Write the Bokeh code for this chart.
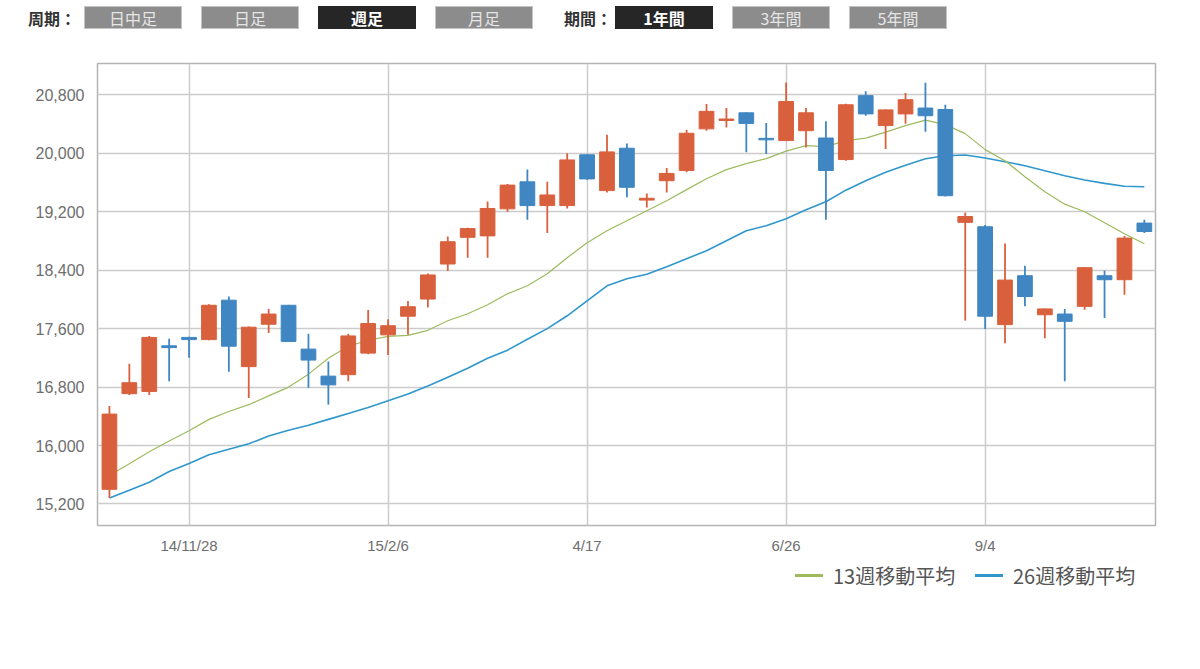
import pandas as pd
from bokeh.plotting import figure
from bokeh.models import (ColumnDataSource, Range1d, FixedTicker, NumeralTickFormatter, Div)
from bokeh.layouts import column
from bokeh.embed import file_html
from bokeh.resources import INLINE

# ---------------- data ----------------
dates = [d.strftime("%Y-%m-%d") for d in pd.date_range("2014-10-31", periods=53, freq="7D")]
tick_labels = {"2014-11-28": "14/11/28", "2015-02-06": "15/2/6", "2015-04-17": "4/17",
               "2015-06-26": "6/26", "2015-09-04": "9/4"}

opens = [15400, 16710, 16740, 17365, 17480, 17450, 17990, 17080, 17660, 17920,
         17320, 16950, 16970, 17265, 17515, 17770, 18005, 18485, 18850, 18870,
         19240, 19610, 19285, 19285, 19980, 19490, 20070, 19360, 19625, 19765,
         20335, 20450, 20555, 20205, 20175, 20310, 20210, 19915, 20790, 20380,
         20540, 20620, 20600, 19055, 18995, 17655, 18325, 17790, 17800, 17905,
         18325, 18270, 19045]
highs = [16540, 17120, 17500, 17460, 17490, 17935, 18040, 17630, 17870, 17925,
         17530, 17150, 17530, 17855, 17730, 17980, 18357, 18860, 18980, 19340,
         19580, 19780, 19610, 20000, 19990, 20255, 20135, 19450, 19800, 20320,
         20675, 20620, 20560, 20415, 20970, 20620, 20440, 20680, 20850, 20600,
         20825, 20965, 20665, 19190, 19020, 18765, 18460, 17875, 17870, 18440,
         18395, 18870, 19090]
lows = [15280, 16690, 16690, 16880, 17200, 17440, 17010, 16650, 17540, 17420,
        16790, 16560, 16880, 17250, 17240, 17515, 17890, 18390, 18570, 18570,
        19200, 19090, 18910, 19245, 19640, 19465, 19400, 19260, 19465, 19740,
        20310, 20355, 20015, 19990, 20170, 20080, 19090, 19900, 20515, 20060,
        20405, 20295, 19410, 17710, 17595, 17400, 17905, 17470, 16880, 17860,
        17745, 18065, 18910]
closes = [16430, 16860, 17480, 17340, 17450, 17920, 17360, 17620, 17800, 17425,
          17170, 16830, 17500, 17670, 17640, 17900, 18335, 18790, 18970, 19245,
          19565, 19285, 19430, 19910, 19650, 20020, 19535, 19385, 19725, 20275,
          20575, 20470, 20410, 20185, 20710, 20555, 19765, 20665, 20540, 20595,
          20735, 20515, 19420, 19135, 17770, 18265, 18040, 17870, 17700, 18435,
          18270, 18840, 18930]
ma13 = [15590, 15750, 15915, 16063, 16201, 16358, 16465, 16559, 16679, 16800,
        16977, 17195, 17359, 17441, 17495, 17509, 17577, 17708, 17804, 17927,
        18078, 18188, 18352, 18571, 18777, 18941, 19078, 19215, 19352, 19503,
        19653, 19777, 19859, 19927, 20030, 20105, 20092, 20174, 20208, 20290,
        20379, 20455, 20393, 20270, 20051, 19899, 19680, 19475, 19304, 19201,
        19050, 18900, 18763]
ma26 = [15281, 15389, 15497, 15645, 15753, 15874, 15949, 16023, 16130, 16210,
        16277, 16358, 16438, 16519, 16612, 16706, 16814, 16936, 17059, 17195,
        17305, 17454, 17600, 17776, 17981, 18187, 18283, 18345, 18447, 18557,
        18667, 18804, 18941, 19009, 19105, 19229, 19338, 19496, 19626, 19742,
        19838, 19927, 19968, 19978, 19937, 19886, 19831, 19763, 19694, 19635,
        19589, 19550, 19543]
y_ticks = [15200, 16000, 16800, 17600, 18400, 19200, 20000, 20800]
series_names = ["13週移動平均", "26週移動平均"]

UP = "#d9603d"
DOWN = "#3f86c2"
MA13_C = "#9dbb5e"
MA26_C = "#2f97cc"

idx = list(range(len(dates)))
src = ColumnDataSource(dict(
    x=idx, open=opens, high=highs, low=lows, close=closes,
    top=[max(o, c) for o, c in zip(opens, closes)],
    bottom=[min(o, c) for o, c in zip(opens, closes)],
    color=[UP if c >= o else DOWN for o, c in zip(opens, closes)],
    ma13=ma13, ma26=ma26,
))
tick_pos = [i for i, d in enumerate(dates) if d in tick_labels]
overrides = {i: tick_labels[dates[i]] for i in tick_pos}

p = figure(frame_width=1058, frame_height=462,
           x_range=Range1d(-0.6, 52.56), y_range=Range1d(14905, 21230),
           output_backend="svg", toolbar_location=None,
           min_border_left=97, min_border_top=15, min_border_right=29, min_border_bottom=35)
p.background_fill_color = "white"
p.border_fill_color = "white"
p.outline_line_color = "#b4b4b4"
p.outline_line_width = 1.5

p.xaxis.ticker = FixedTicker(ticks=tick_pos)
p.xaxis.major_label_overrides = overrides
p.yaxis.ticker = FixedTicker(ticks=y_ticks)
p.yaxis.formatter = NumeralTickFormatter(format="0,0")
for ax in (p.xaxis, p.yaxis):
    ax.axis_line_color = None
    ax.major_tick_line_color = None
    ax.minor_tick_line_color = None
    ax.major_tick_out = 0
    ax.major_tick_in = 0
    ax.minor_tick_out = 0
    ax.minor_tick_in = 0
    ax.major_label_text_color = "#6e6e6e"
    ax.major_label_text_font = "Liberation Sans"
p.yaxis.major_label_text_font_size = "16px"
p.xaxis.major_label_text_font_size = "15px"
p.yaxis.major_label_standoff = 13
p.xaxis.major_label_standoff = 11
p.xgrid.ticker = FixedTicker(ticks=tick_pos)
p.ygrid.ticker = FixedTicker(ticks=y_ticks)
for g in (p.xgrid, p.ygrid):
    g.grid_line_color = "#cccccc"
    g.grid_line_width = 1.5

p.line("x", "ma26", source=src, line_color=MA26_C, line_width=1.6)
p.line("x", "ma13", source=src, line_color=MA13_C, line_width=1.2)
p.segment("x", "high", "x", "low", source=src, line_color="color", line_width=1.8)
p.vbar(x="x", width=0.74, top="top", bottom="bottom", source=src,
       fill_color="color", line_color="color", line_width=1)
p.margin = 0

# ---------------- top selector bar ----------------
FONT = "font-family:'Noto Sans CJK JP',sans-serif;"

def box(left, label, active):
    if active:
        st = "background:#262626;color:#ffffff;font-weight:bold;border:1px solid #262626;"
    else:
        st = "background:#8c8c8c;color:#e6e6e6;border:1px solid #c4c4c4;"
    return ('<div style="position:absolute;left:%dpx;top:6px;width:98px;height:23px;'
            'line-height:23px;text-align:center;font-size:16px;%s">%s</div>' % (left, st, label))

html = ('<div style="position:relative;width:1190px;height:40px;%s">' % FONT
        + '<div style="position:absolute;left:28px;top:6px;height:25px;line-height:25px;'
          'font-size:16px;font-weight:bold;color:#333;">周期：</div>'
        + box(84, "日中足", False) + box(201, "日足", False) + box(318, "週足", True)
        + box(435, "月足", False)
        + '<div style="position:absolute;left:564px;top:6px;height:25px;line-height:25px;'
          'font-size:16px;font-weight:bold;color:#333;">期間：</div>'
        + box(615, "1年間", True) + box(732, "3年間", False) + box(849, "5年間", False)
        + '</div>')
div = Div(text=html, width=1190, height=48, margin=0)

# ---------------- legend (below plot) ----------------
def legend_item(left, color, label):
    return ('<div style="position:absolute;left:%dpx;top:14px;width:28px;height:3px;background:%s;"></div>'
            '<div style="position:absolute;left:%dpx;top:1px;height:30px;line-height:30px;'
            'font-size:20px;color:#555555;white-space:nowrap;">%s</div>'
            % (left, color, left + 38, label))

leg_html = ('<div style="position:relative;width:1190px;height:40px;%s">' % FONT
            + legend_item(795, MA13_C, series_names[0])
            + legend_item(975, MA26_C, series_names[1])
            + '</div>')
leg = Div(text=leg_html, width=1190, height=40, margin=0)

layout = column(div, p, leg, spacing=0, margin=0)
open("out.html", "w").write(file_html(layout, INLINE))
